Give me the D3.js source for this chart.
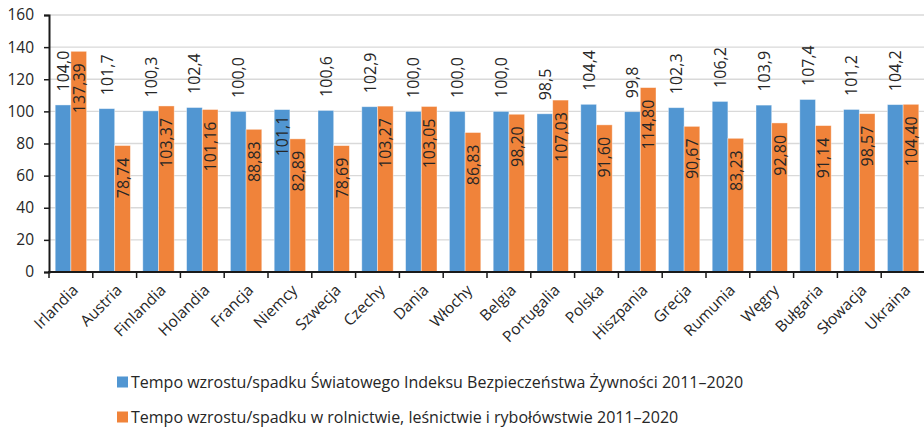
<!DOCTYPE html>
<html lang="pl">
<head>
<meta charset="UTF-8">
<title>Tempo wzrostu</title>
<script src="https://d3js.org/d3.v7.min.js"></script>
<style>
  body { margin: 0; background: #fff; }
  text { font-family: "Open Sans", "DejaVu Sans", sans-serif; fill: #262626; }
</style>
</head>
<body>
<script>
  // dane
  var categories = ['Irlandia','Austria','Finlandia','Holandia','Francja','Niemcy','Szwecja','Czechy','Dania','Włochy',
                    'Belgia','Portugalia','Polska','Hiszpania','Grecja','Rumunia','Węgry','Bułgaria','Słowacja','Ukraina'];
  var foodIndex = [104.0,101.7,100.3,102.4,100.0,101.1,100.6,102.9,100.0,100.0,
                   100.0,98.5,104.4,99.8,102.3,106.2,103.9,107.4,101.2,104.2];
  var agriGrowth = [137.39,78.74,103.37,101.16,88.83,82.89,78.69,103.27,103.05,86.83,
                    98.20,107.03,91.60,114.80,90.67,83.23,92.80,91.14,98.57,104.40];
  var yTicks = [0,20,40,60,80,100,120,140,160];
  var seriesNames = ['Tempo wzrostu/spadku Światowego Indeksu Bezpieczeństwa Żywności 2011–2020',
                     'Tempo wzrostu/spadku w rolnictwie, leśnictwie i rybołówstwie 2011–2020'];
  var blueInside = ['Niemcy']; // etykiety wewnątrz słupka

  var width = 924, height = 428;
  var colors = ['#5196d2', '#f0833a'];
  var svg = d3.select('body').append('svg').attr('width', width).attr('height', height);

  var x0 = d3.scaleBand().domain(categories).range([49, 925]).paddingInner(0.283).paddingOuter(0.1415);
  var x1 = d3.scaleBand().domain([0, 1]).range([0, x0.bandwidth()]);
  var y = d3.scaleLinear().domain([0, 160]).range([272, 15]);

  // siatka
  svg.append('g').selectAll('line').data(yTicks.slice(1)).enter().append('line')
     .attr('x1', 49).attr('x2', 924)
     .attr('y1', function(d){ return y(d); }).attr('y2', function(d){ return y(d); })
     .attr('stroke', '#d9d9d9').attr('stroke-width', 1.3);

  // słupki
  var fmt1 = function(v){ return v.toFixed(1).replace('.', ','); };
  var fmt2 = function(v){ return v.toFixed(2).replace('.', ','); };
  var rows = categories.map(function(c, i){ return {c: c, v: [foodIndex[i], agriGrowth[i]]}; });

  var groups = svg.append('g').selectAll('g').data(rows).enter().append('g')
     .attr('transform', function(d){ return 'translate(' + x0(d.c) + ',0)'; });

  groups.selectAll('rect').data(function(d){ return d.v; }).enter().append('rect')
     .attr('x', function(d, i){ return x1(i); })
     .attr('y', function(d){ return y(d); })
     .attr('width', x1.bandwidth())
     .attr('height', function(d){ return y(0) - y(d); })
     .attr('fill', function(d, i){ return colors[i]; })
     .attr('stroke', 'rgba(255,255,255,0.5)').attr('stroke-width', 0.8);

  // etykiety niebieskie (nad słupkiem)
  groups.append('text')
     .attr('transform', function(d){
        var cx = x1(0) + x1.bandwidth() / 2;
        var inside = blueInside.indexOf(d.c) >= 0;
        var yy = inside ? y(d.v[0]) + 6 : y(d.v[0]) - 13.5;
        return 'translate(' + cx + ',' + yy + ') rotate(-90)';
     })
     .attr('text-anchor', function(d){ return blueInside.indexOf(d.c) >= 0 ? 'end' : 'start'; })
     .attr('dominant-baseline', 'central')
     .attr('font-size', '16px')
     .text(function(d){ return fmt1(d.v[0]); });

  // etykiety pomarańczowe (wewnątrz)
  groups.append('text')
     .attr('transform', function(d){
        var cx = x1(1) + x1.bandwidth() / 2;
        return 'translate(' + cx + ',' + (y(d.v[1]) + 12) + ') rotate(-90)';
     })
     .attr('text-anchor', 'end')
     .attr('dominant-baseline', 'central')
     .attr('font-size', '16px')
     .text(function(d){ return fmt2(d.v[1]); });

  // oś Y
  var yAxis = svg.append('g').attr('transform', 'translate(49,0)')
     .call(d3.axisLeft(y).tickValues(yTicks).tickSize(5).tickPadding(10));
  yAxis.select('.domain').attr('stroke', '#1a1a1a').attr('stroke-width', 2);
  yAxis.selectAll('.tick line').attr('stroke', '#1a1a1a').attr('stroke-width', 1.5);
  yAxis.selectAll('.tick text').attr('font-size', '15.5px').attr('font-family', '"Open Sans", sans-serif').attr('fill', '#262626');

  // oś X
  var xa = svg.append('g');
  xa.append('line').attr('x1', 48).attr('x2', 924).attr('y1', y(0)).attr('y2', y(0))
    .attr('stroke', '#1a1a1a').attr('stroke-width', 2);
  xa.selectAll('.tk').data(d3.range(categories.length + 1)).enter().append('line')
    .attr('x1', function(i){ return x0.range()[0] + i * x0.step(); })
    .attr('x2', function(i){ return x0.range()[0] + i * x0.step(); })
    .attr('y1', y(0)).attr('y2', y(0) + 6)
    .attr('stroke', '#1a1a1a').attr('stroke-width', 1.5);
  xa.selectAll('.lbl').data(categories).enter().append('text')
    .attr('transform', function(d){
       return 'translate(' + (x0(d) + x0.bandwidth() / 2 + 4) + ',' + (y(0) + 15) + ') rotate(-45)';
    })
    .attr('text-anchor', 'end')
    .attr('dominant-baseline', 'central')
    .attr('font-size', '15.5px')
    .text(function(d){ return d; });

  // legenda
  var lg = svg.append('g').selectAll('g').data(seriesNames).enter().append('g')
     .attr('transform', function(d, i){ return 'translate(117,' + (382 + i * 35) + ')'; });
  lg.append('rect').attr('x', 0).attr('y', -5.5).attr('width', 11).attr('height', 11)
    .attr('fill', function(d, i){ return colors[i]; });
  lg.append('text').attr('x', 14).attr('y', 0).attr('dominant-baseline', 'central')
    .attr('font-size', '16px').text(function(d){ return d; });
</script>
</body>
</html>
